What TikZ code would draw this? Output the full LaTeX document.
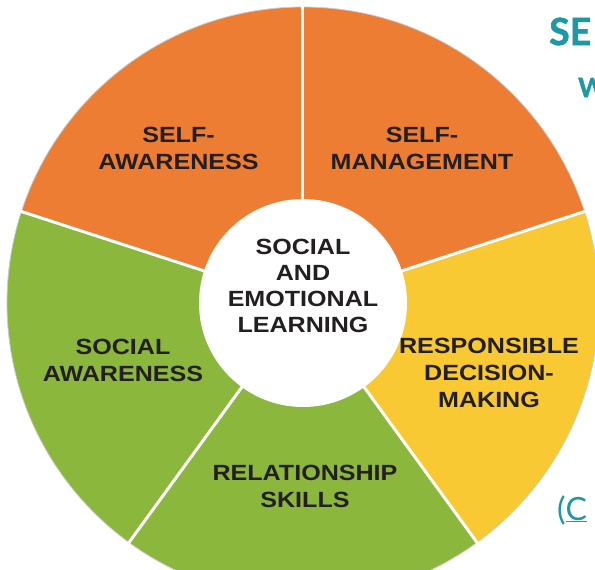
\documentclass[tikz,border=0pt]{standalone}
\usepackage{fontspec}
\newfontfamily\wheelfont{Liberation Sans}[FakeStretch=1.14]
\newfontfamily\latofont{Lato}
\newfontfamily\latoheavy{Lato}[FakeBold=1.6]
\definecolor{selorange}{HTML}{ED7D33}
\definecolor{selgreen}{HTML}{8BB73C}
\definecolor{selyellow}{HTML}{F8C932}
\definecolor{selteal}{HTML}{1D98A5}
\definecolor{seltext}{HTML}{231F20}
\begin{document}
\begin{tikzpicture}[x=1pt, y=1pt,
    segtext/.style={font=\wheelfont\bfseries\fontsize{22}{27}\selectfont, text=seltext, align=center, inner sep=0pt},
    hubtext/.style={segtext, font=\wheelfont\bfseries\fontsize{22}{26}\selectfont},
    sidetext/.style={text=selteal, inner sep=0pt}]
    \useasboundingbox (-303,-267) rectangle (292,303);
    \clip (-303,-267) rectangle (292,303);
        %Segments
    \foreach \a/\c in {18/selorange, 90/selorange, 162/selgreen, 234/selgreen, 306/selyellow}
    \fill[\c] (0,0) -- (\a:296pt) arc[start angle=\a, delta angle=72, radius=296pt] -- cycle;
        %Rim
    \draw[black!20, line width=0.8pt] (0,0) circle[radius=296pt];
        %Dividers
    \foreach \a in {18, 90,...,306}
    \draw[white, line width=3pt] (0,0) -- (\a:300pt);
        %Hub
    \node[circle, fill=white, minimum size=208pt, inner sep=0pt] (hub) at (0,0) {};
    \node[hubtext] (sel) at (0,17.5) {SOCIAL\\AND\\EMOTIONAL\\LEARNING};
        %Segment labels
    \node[segtext] (awareness) at (-124.5,155) {SELF-\\AWARENESS};
    \node[segtext] (management) at (119,155) {SELF-\\MANAGEMENT};
    \node[segtext] (social) at (-180,-57) {SOCIAL\\AWARENESS};
    \node[segtext] (relationship) at (2,-183) {RELATIONSHIP\\SKILLS};
    \node[segtext] (decision) at (186,-70) {RESPONSIBLE\\DECISION-\\MAKING};
        %Cut-off text at the right
    \node[sidetext, anchor=west, font=\latoheavy\bfseries\fontsize{37.5}{40}\selectfont] (heading) at (246,271.5) {SE};
    \node[sidetext, anchor=west, font=\latoheavy\bfseries\fontsize{26.5}{28}\selectfont] (subheading) at (275,215.5) {W};
    \node[sidetext, anchor=base west, font=\latofont\fontsize{32}{34}\selectfont] (cite) at (254,-217) {(\underline{C}};
\end{tikzpicture}
\end{document}
